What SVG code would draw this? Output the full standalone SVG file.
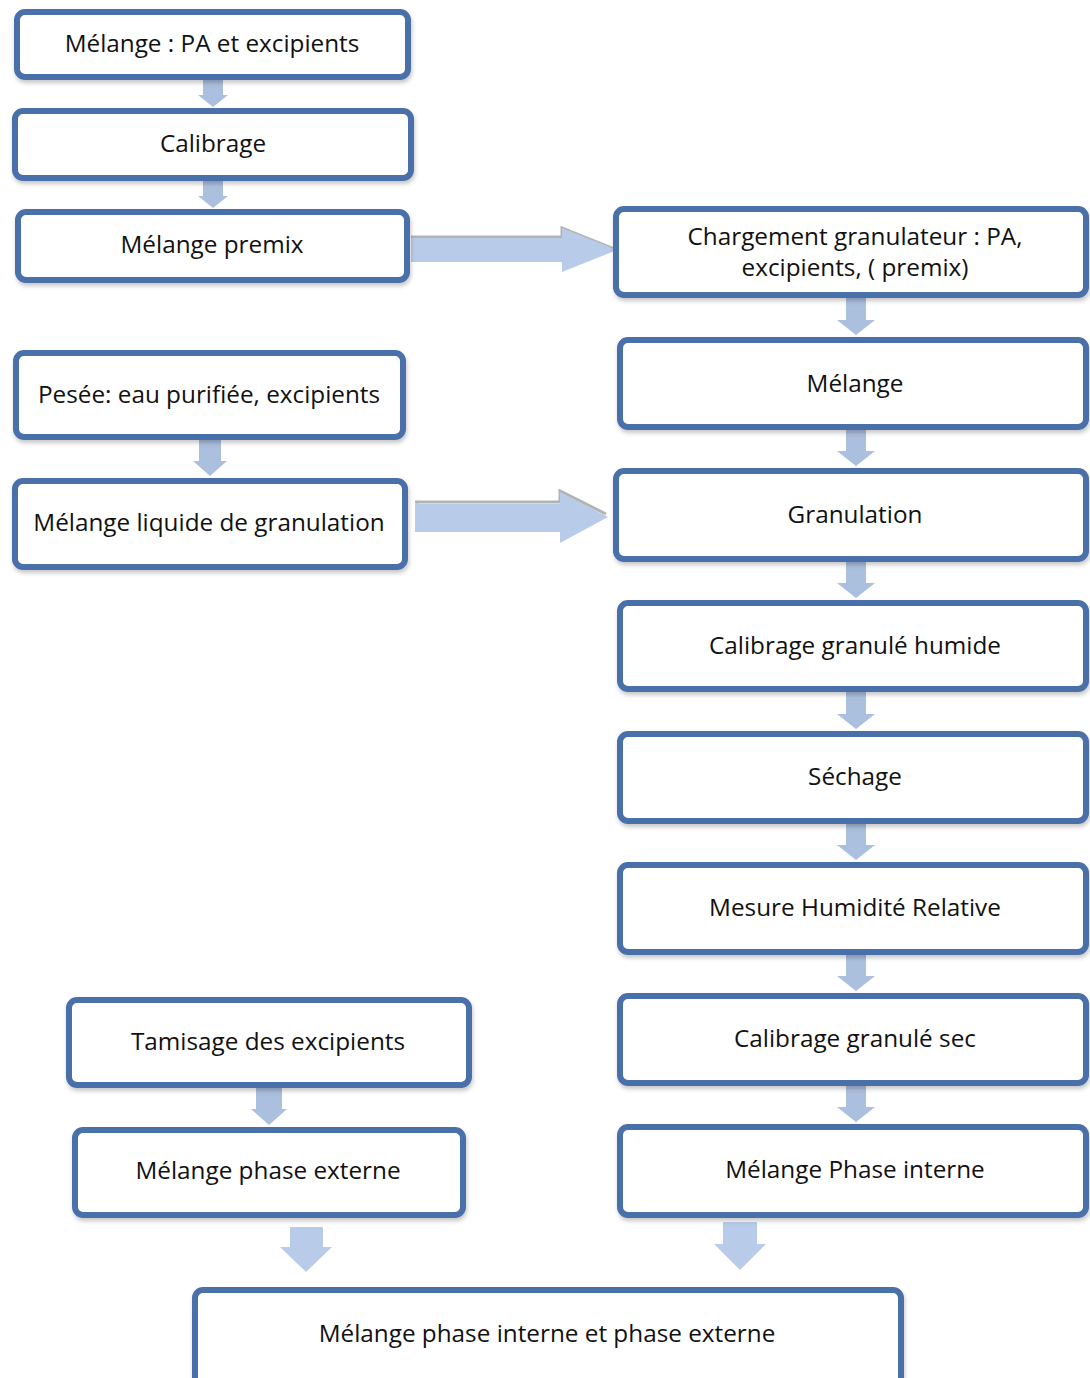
<svg xmlns="http://www.w3.org/2000/svg" width="1090" height="1378" viewBox="0 0 1090 1378">
<defs>
<filter id="sh" x="-5%" y="-10%" width="110%" height="130%">
<feDropShadow dx="1" dy="3" stdDeviation="2" flood-color="#000" flood-opacity="0.22"/>
</filter>
<style>
.box{fill:#ffffff;stroke:#4a6fa8;stroke-width:6;filter:url(#sh)}
.t{font-family:"Open Sans","Liberation Sans",sans-serif;font-size:24.3px;fill:#111;text-anchor:middle}
.sa{fill:#abbfdf}
.ba{fill:#b8cbe9}
.gs{fill:none;stroke:#b3b3b3;stroke-width:3}
</style>
</defs>
<rect width="1090" height="1378" fill="#ffffff"/>
<g id="connectors">
<path class="sa" d="M203,80 L223,80 L223,95 L228,95 L213,107 L198,95 L203,95 Z"/>
<path class="sa" d="M203,181 L223,181 L223,196 L228,196 L213,208 L198,196 L203,196 Z"/>
<path class="sa" d="M199,440 L221,440 L221,461 L227,461 L210,476 L193,461 L199,461 Z"/>
<path class="sa" d="M256,1088 L282,1088 L282,1109 L287,1109 L269,1125 L251,1109 L256,1109 Z"/>
<path class="sa" d="M846,298 L866,298 L866,320 L875,320 L856,335 L837,320 L846,320 Z"/>
<path class="sa" d="M846,430 L866,430 L866,451 L875,451 L856,466 L837,451 L846,451 Z"/>
<path class="sa" d="M846,562 L866,562 L866,583 L875,583 L856,598 L837,583 L846,583 Z"/>
<path class="sa" d="M846,692 L866,692 L866,714 L875,714 L856,729 L837,714 L846,714 Z"/>
<path class="sa" d="M846,824 L866,824 L866,845 L875,845 L856,860 L837,845 L846,845 Z"/>
<path class="sa" d="M846,955 L866,955 L866,976 L875,976 L856,991 L837,976 L846,976 Z"/>
<path class="sa" d="M846,1086 L866,1086 L866,1107 L875,1107 L856,1122 L837,1107 L846,1107 Z"/>
<path class="ba" d="M290,1227 L323,1227 L323,1247 L332,1247 L306,1272 L280,1247 L290,1247 Z"/>
<path class="ba" d="M723,1222 L757,1222 L757,1244 L766,1244 L740,1270 L714,1244 L723,1244 Z"/>
<polyline class="gs" points="411,237 562,237 562,228 614,249"/>
<path class="ba" d="M411,238 L562,238 L562,228 L617,250 L562,272 L562,262 L411,262 Z"/>
<polyline class="gs" points="415,502 560,502 560,491 606,514"/>
<line x1="417" y1="503" x2="417" y2="532" stroke="#c8c8c8" stroke-width="2"/>
<path class="ba" d="M415,504 L560,504 L560,492 L608,517 L560,543 L560,532 L415,532 Z"/>
</g>
<g id="n1"><rect class="box" x="17" y="12" width="391" height="65" rx="8"/><text class="t" x="212" y="52">Mélange : PA et excipients</text></g>
<g id="n2"><rect class="box" x="15" y="111" width="396" height="67" rx="8"/><text class="t" x="213" y="152">Calibrage</text></g>
<g id="n3"><rect class="box" x="18" y="212" width="389" height="68" rx="8"/><text class="t" x="212" y="253">Mélange premix</text></g>
<g id="n4"><rect class="box" x="16" y="353" width="387" height="84" rx="8"/><text class="t" x="209" y="403">Pesée: eau purifiée, excipients</text></g>
<g id="n5"><rect class="box" x="15" y="481" width="390" height="86" rx="8"/><text class="t" x="209" y="531">Mélange liquide de granulation</text></g>
<g id="n6"><rect class="box" x="616" y="209" width="470" height="86" rx="8"/><text class="t" x="855" y="245">Chargement granulateur : PA,</text><text class="t" x="855" y="276">excipients, ( premix)</text></g>
<g id="n7"><rect class="box" x="620" y="340" width="466" height="87" rx="8"/><text class="t" x="855" y="392">Mélange</text></g>
<g id="n8"><rect class="box" x="616" y="471" width="470" height="88" rx="8"/><text class="t" x="855" y="523">Granulation</text></g>
<g id="n9"><rect class="box" x="620" y="603" width="466" height="86" rx="8"/><text class="t" x="855" y="654">Calibrage granulé humide</text></g>
<g id="n10"><rect class="box" x="620" y="734" width="466" height="87" rx="8"/><text class="t" x="855" y="785">Séchage</text></g>
<g id="n11"><rect class="box" x="620" y="865" width="466" height="87" rx="8"/><text class="t" x="855" y="916">Mesure Humidité Relative</text></g>
<g id="n12"><rect class="box" x="620" y="996" width="466" height="87" rx="8"/><text class="t" x="855" y="1047">Calibrage granulé sec</text></g>
<g id="n13"><rect class="box" x="620" y="1127" width="466" height="88" rx="8"/><text class="t" x="855" y="1178">Mélange Phase interne</text></g>
<g id="n14"><rect class="box" x="69" y="1000" width="400" height="85" rx="8"/><text class="t" x="268" y="1050">Tamisage des excipients</text></g>
<g id="n15"><rect class="box" x="75" y="1130" width="388" height="85" rx="8"/><text class="t" x="268" y="1179">Mélange phase externe</text></g>
<g id="n16"><rect class="box" x="195" y="1290" width="706" height="100" rx="8"/><text class="t" x="547" y="1342">Mélange phase interne et phase externe</text></g>
</svg>
